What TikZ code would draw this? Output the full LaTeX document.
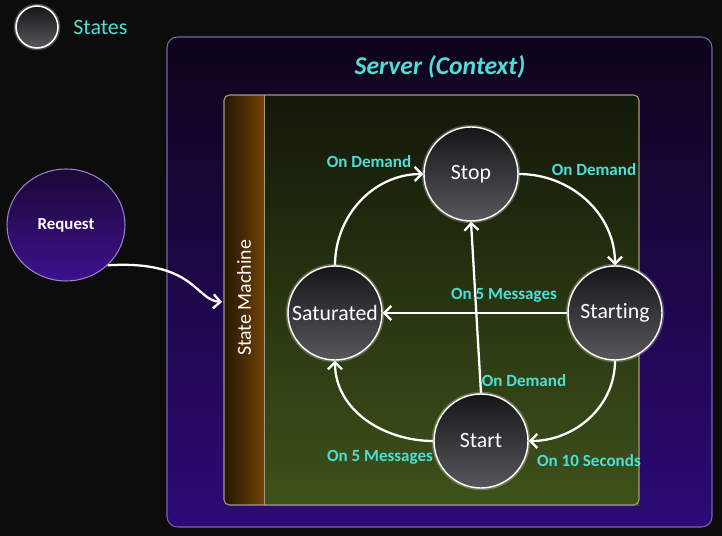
\documentclass[tikz,border=0pt]{standalone}
\usepackage{fontspec}
\setmainfont{Carlito}[Ligatures=NoCommon]
\usetikzlibrary{arrows.meta,shapes.geometric}
\definecolor{fonas}{RGB}{12,12,12}
\definecolor{zydra}{RGB}{78,222,214}
\definecolor{busTop}{RGB}{22,22,25}
\definecolor{busBot}{RGB}{88,88,92}
\definecolor{servTop}{RGB}{14,4,26}
\definecolor{servBot}{RGB}{44,10,118}
\definecolor{servLine}{RGB}{120,100,170}
\definecolor{zalTop}{RGB}{18,24,8}
\definecolor{zalBot}{RGB}{62,82,26}
\definecolor{rudL}{RGB}{38,22,4}
\definecolor{rudR}{RGB}{122,72,6}
\definecolor{remas}{RGB}{165,155,125}
\definecolor{reqTop}{RGB}{26,8,52}
\definecolor{reqBot}{RGB}{62,16,142}
\definecolor{reqLine}{RGB}{150,130,200}
\begin{document}
\begin{tikzpicture}[x=0.02cm, y=-0.02cm,
                    busena/.style={circle, draw=white, line width=0.8pt,
                      minimum size=1.88cm, inner sep=0pt,
                      top color=busTop, bottom color=busBot, text=white,
                      font=\fontsize{12.4}{14}\selectfont,
                      preaction={draw=white, draw opacity=0.25, line width=2.6pt}},
                    perejimas/.style={draw=white, line width=1.3pt,
                      -{Straight Barb[length=4pt,width=8pt]}},
                    zyme/.style={text=zydra, inner sep=0pt,
                      font=\bfseries\fontsize{9.7}{11}\selectfont}]
  % fonas
  \useasboundingbox (0,0) rectangle (722,536);
  \fill[fonas] (0,0) rectangle (722,536);
  % legenda
  \node[busena, minimum size=0.84cm, line width=0.9pt] (legend) at (37,27) {};
  \node[text=zydra, anchor=west, inner sep=0pt,
        font=\fontsize{12.5}{14}\selectfont] (legtxt) at (73,27) {States};
  % serveris
  \shade[top color=servTop, bottom color=servBot, draw=servLine, line width=0.6pt,
         rounded corners=6pt] (167,37) rectangle (712,527);
  \node[text=zydra, font=\bfseries\itshape\fontsize{14.6}{17}\selectfont]
        (title) at (440,67) {Server (Context)};
  % būsenų mašina
  \shade[left color=rudL, right color=rudR, rounded corners=3pt] (224,95) rectangle (270,505);
  \shade[top color=zalTop, bottom color=zalBot] (264,95) rectangle (639,505);
  \draw[remas, line width=0.6pt, rounded corners=3pt] (224,95) rectangle (639,505);
  \draw[remas, line width=0.4pt] (264,95) -- (264,505);
  \node[text=white, rotate=90, font=\fontsize{11.3}{13}\selectfont]
        (sm) at (244,298) {State Machine};
  \coordinate (smin) at (222,302);
  % užklausa
  \node[ellipse, draw=reqLine, line width=0.6pt, minimum width=2.36cm,
        minimum height=2.24cm, top color=reqTop, bottom color=reqBot, text=white,
        font=\bfseries\fontsize{9.6}{11}\selectfont] (req) at (66,225) {Request};
  \draw[perejimas] (req.-44) .. controls (195,260) and (195,300) .. (smin);
  % būsenos
  \node[busena] (stop) at (471,174) {Stop};
  \node[busena] (starting) at (615,313) {Starting};
  \node[busena] (sat) at (335,313) {Saturated};
  \node[busena] (start) at (481,441) {Start};
  % perėjimai
  \draw[perejimas] (sat.north) to[out=90, in=180] (stop.west);
  \draw[perejimas] (stop.east) to[out=0, in=90] (starting.north);
  \draw[perejimas] (starting.south) to[out=-90, in=0] (start.east);
  \draw[perejimas] (start.west) to[out=180, in=-90] (sat.south);
  \draw[perejimas] (starting.west) -- (sat.east);
  \draw[perejimas] (start.north) -- (stop.south);
  % žymės
  \node[zyme] (l1) at (369,162) {On Demand};
  \node[zyme] (l2) at (594,170) {On Demand};
  \node[zyme] (l3) at (504,295) {On 5 Messages};
  \node[zyme] (l4) at (524,381) {On Demand};
  \node[zyme] (l5) at (380,457) {On 5 Messages};
  \node[zyme] (l6) at (589,461) {On 10 Seconds};
\end{tikzpicture}
\end{document}
